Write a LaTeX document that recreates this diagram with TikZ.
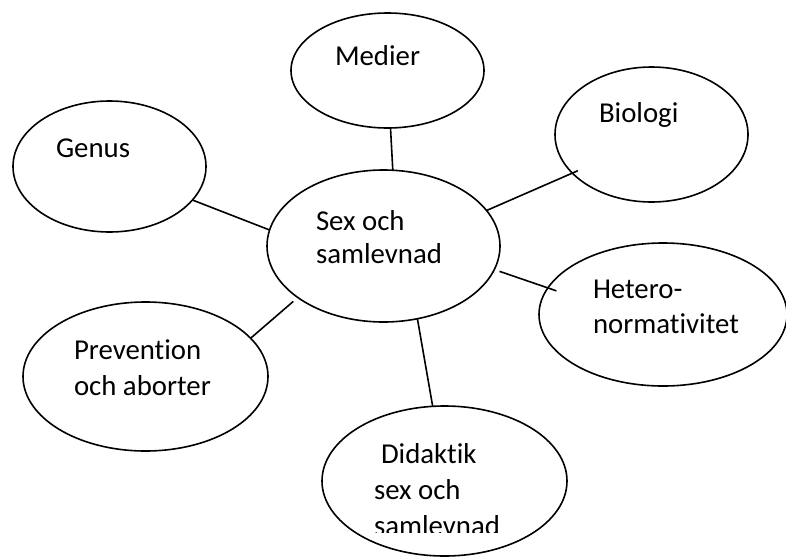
\documentclass[tikz,border=0pt]{standalone}
\usepackage{fontspec}
\setmainfont[Ligatures=NoCommon]{Carlito}
\usetikzlibrary{shapes.geometric}
\tikzset{
  bub/.style={draw=black, ellipse, line width=1.6pt, inner sep=0pt, outer sep=0pt},
  conn/.style={draw=black, line width=1.6pt},
  txt/.style={anchor=base west, inner sep=0pt, outer sep=0pt, font=\fontsize{28.8pt}{34pt}\selectfont, text=black}
}
\begin{document}
\begin{tikzpicture}[x=1pt,y=-1pt]
\useasboundingbox[fill=white] (0,0) rectangle (786,557);
% ellipses
\node[bub, minimum width=193pt, minimum height=115pt] (med) at (387.5,70.5) {};
\node[bub, minimum width=193pt, minimum height=131pt] (gen) at (109.5,166.5) {};
\node[bub, minimum width=193pt, minimum height=135pt] (bio) at (651.5,134.5) {};
\node[bub, minimum width=233pt, minimum height=152pt] (sex) at (383.5,246) {};
\node[bub, minimum width=248pt, minimum height=143pt] (het) at (663,314.5) {};
\node[bub, minimum width=245pt, minimum height=149pt] (pre) at (145.5,376.5) {};
\node[bub, minimum width=245pt, minimum height=150pt] (did) at (444.5,481) {};
% connectors
\draw[conn] (sex.83.4) -- (med.-87.5);
\draw[conn] (sex.172.6) -- (gen.-22);
\draw[conn, shorten >=-6pt] (sex.19.4) -- (bio.206.4);
\draw[conn, shorten <=5.5pt, shorten >=-9pt] (sex.-12.7) -- (het.167.6);
\draw[conn, shorten <=6pt] (sex.211.3) -- (pre.20.2);
\draw[conn] (sex.-65.9) -- (did.99.5);
% texts
\node[txt] (tmed) at (335,65) {Medier};
\node[txt] (tgen) at (56,157) {Genus};
\node[txt] (tbio) at (599,122) {Biologi};
\node[txt] (tsex1) at (316,230) {Sex och};
\node[txt] (tsex2) at (316,263) {samlevnad};
\node[txt] (thet1) at (593,298) {Hetero-};
\node[txt] (thet2) at (593,333) {normativitet};
\node[txt] (tpre1) at (74,359) {Prevention};
\node[txt] (tpre2) at (74,395) {och aborter};
\node[txt] (tdid1) at (381,463) {Didaktik};
\node[txt] (tdid2) at (374,499) {sex och};
\begin{scope}
  \clip (330,505) rectangle (570,532);
  \node[txt] (tdid3) at (374,535) {samlevnad};
\end{scope}
\end{tikzpicture}
\end{document}
